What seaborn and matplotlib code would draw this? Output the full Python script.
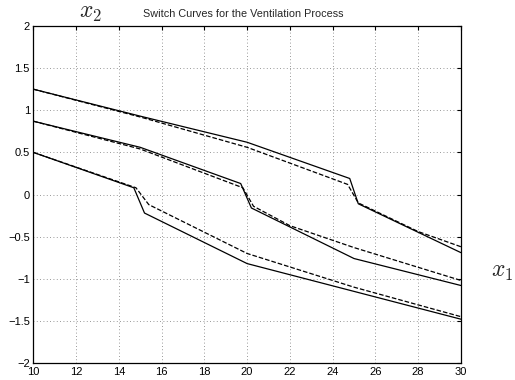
import matplotlib
matplotlib.use("Agg")
import matplotlib.pyplot as plt
import seaborn as sns
import pandas as pd

# switch curves: solid = exact, dashed = approximation
top_x = [10, 15, 20, 24.8, 25.2, 30]
top_y = [1.25, 0.93, 0.62, 0.19, -0.11, -0.69]
top_dash_x = [10, 15, 20, 24.7, 25.2, 28, 30]
top_dash_y = [1.25, 0.92, 0.56, 0.12, -0.10, -0.44, -0.62]

mid_x = [10, 15, 19.7, 20.2, 25, 30]
mid_y = [0.87, 0.56, 0.13, -0.16, -0.76, -1.08]
mid_dash_x = [10, 15, 19.8, 20.3, 22, 25, 30]
mid_dash_y = [0.87, 0.54, 0.08, -0.14, -0.37, -0.63, -1.02]

bot_x = [10, 14.7, 15.2, 20, 30]
bot_y = [0.50, 0.08, -0.22, -0.82, -1.48]
bot_dash_x = [10, 14.8, 15.4, 20, 25, 30]
bot_dash_y = [0.50, 0.08, -0.12, -0.70, -1.10, -1.45]

x_ticks = list(range(10, 31, 2))
y_ticks = [-2, -1.5, -1, -0.5, 0, 0.5, 1, 1.5, 2]
y_labels = ["\u22122", "\u22121.5", "\u22121", "\u22120.5", "0", "0.5", "1", "1.5", "2"]

sns.set_style("white")
plt.rcParams["font.family"] = ["Liberation Sans", "DejaVu Sans"]
plt.rcParams["mathtext.fontset"] = "cm"

fig = plt.figure(figsize=(5.15, 3.8), dpi=100)
ax = fig.add_axes([0.0647, 0.0447, 0.8303, 0.8869])

curves = [
    (top_x, top_y, "-"), (top_dash_x, top_dash_y, "--"),
    (mid_x, mid_y, "-"), (mid_dash_x, mid_dash_y, "--"),
    (bot_x, bot_y, "-"), (bot_dash_x, bot_dash_y, "--"),
]
for xs, ys, ls in curves:
    df = pd.DataFrame({"x1": xs, "x2": ys})
    sns.lineplot(data=df, x="x1", y="x2", ax=ax, color="black",
                 linewidth=0.9, linestyle=ls, sort=False)

ax.set_xlim(10, 30)
ax.set_ylim(-2, 2)
ax.set_xticks(x_ticks)
ax.set_yticks(y_ticks)
ax.set_yticklabels(y_labels)
ax.grid(True, linestyle=(0, (1, 3)), color="#777777", linewidth=0.6)
ax.tick_params(direction="in", length=3, labelsize=8,
               top=True, right=True, colors="black")
ax.tick_params(axis="x", pad=3)
ax.tick_params(axis="y", pad=2.5)
for s in ax.spines.values():
    s.set_color("black")
    s.set_linewidth(0.9)
ax.set_xlabel("")
ax.set_ylabel("")

fig.text(0.472, 0.963, "Switch Curves for the Ventilation Process",
         ha="center", va="center", fontsize=7.8)
fig.text(0.175, 0.965, r"$x_2$", ha="center", va="center", fontsize=17)
fig.text(0.975, 0.285, r"$x_1$", ha="center", va="center", fontsize=17)

fig.savefig("out.png", dpi=100)
